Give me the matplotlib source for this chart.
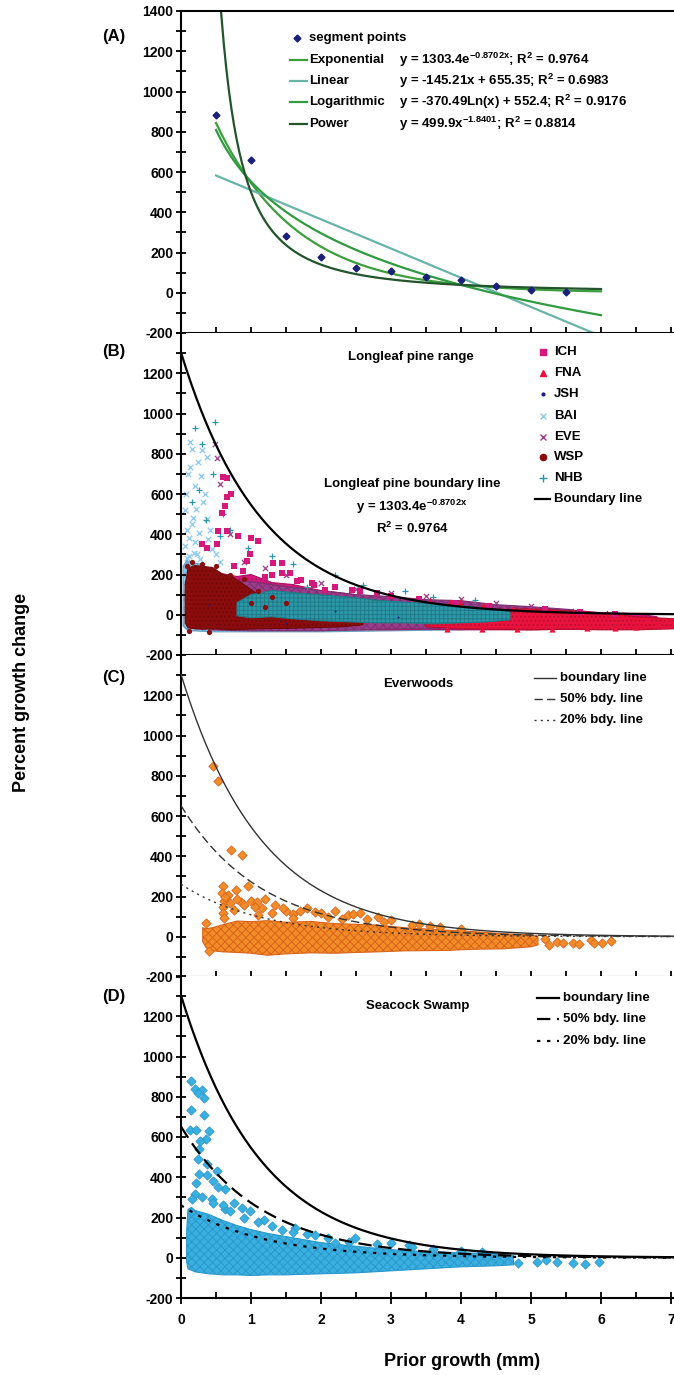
import matplotlib
matplotlib.use("Agg")
import matplotlib.pyplot as plt
import numpy as np
from matplotlib.ticker import MultipleLocator

plt.rcParams['font.family'] = ['Liberation Sans', 'DejaVu Sans']
plt.rcParams['font.weight'] = 'bold'
plt.rcParams['mathtext.default'] = 'regular'
plt.rcParams['hatch.linewidth'] = 0.7

# ---- layout (pixels of the 674x1375 figure)
W, H = 674, 1375
AX_LEFT = 181
AX_H = 322
PANEL_TOPS = [11, 333, 655, 976]
PX_PER_X = 70

# ---- panel A: segment points and the four fits
seg_x = [0.5, 1.0, 1.5, 2.0, 2.5, 3.0, 3.5, 4.0, 4.5, 5.0, 5.5]
seg_y = [881, 658, 281, 177, 122, 107, 78, 61, 36, 12, 5]
fit_names = ['Exponential', 'Linear', 'Logarithmic', 'Power']
fit_colors = ['#3c9e3c', '#68b4a8', '#2f9a40', '#22552c']
fit_eqs = ['y = 1303.4e$^{-0.8702x}$; R$^{2}$ = 0.9764',
           'y = -145.21x + 655.35; R$^{2}$ = 0.6983',
           'y = -370.49Ln(x) + 552.4; R$^{2}$ = 0.9176',
           'y = 499.9x$^{-1.8401}$; R$^{2}$ = 0.8814']
exp_coef = [1303.4, -0.8702]
lin_coef = [-145.21, 655.35]
log_coef = [-370.49, 552.4]
pow_coef = [499.9, -1.8401]
fit_range = [0.5, 6.0]
bdy_range = [0.0, 7.05]
bdy_fractions = [1.0, 0.5, 0.2]

# ---- panel B: longleaf pine range, dense cores (x, low, high) + scattered points
b_names = ['ICH', 'FNA', 'JSH', 'BAI', 'EVE', 'WSP', 'NHB']
b_colors = ['#d4187c', '#e8123c', '#1c1c80', '#8cc8f0', '#9c3c8c', '#8a0c0c', '#2a98a8']
b_markers = ['s', '^', '.', 'x', 'x', 'o', '+']

bai_core_x = [0.03, 0.08, 0.15, 0.3, 0.45, 0.6, 1.0, 1.5, 2.0, 3.0, 4.0, 4.6]
bai_core_lo = [-55, -75, -80, -82, -85, -85, -85, -85, -85, -80, -75, -60]
bai_core_hi = [240, 270, 260, 250, 220, 200, 150, 120, 95, 70, 50, 30]
bai_x = [0.13, 0.15, 0.30, 0.37, 0.13, 0.20, 0.34, 0.22, 0.37, 0.25, 0.39, 0.18, 0.27, 0.44,
         0.10, 0.28, 0.32, 0.15, 0.42, 0.12, 0.20, 0.35, 0.08, 0.50, 0.55, 0.06, 0.24,
         0.05, 0.09, 0.17, 0.07, 0.23, 0.11, 0.29]
bai_y = [858, 825, 817, 783, 733, 642, 600, 525, 475, 408, 375, 308, 275, 325,
         700, 690, 560, 450, 420, 380, 360, 330, 280, 300, 260, 520, 760,
         340, 420, 480, 600, 300, 290, 350]

ich_core_x = [0.5, 0.8, 1.0, 1.3, 1.6, 2.0, 2.5, 3.0, 3.5, 4.0, 4.5, 5.0, 5.5, 6.0, 6.5, 6.8]
ich_core_lo = [-70, -75, -75, -75, -78, -75, -75, -75, -72, -75, -75, -75, -72, -70, -65, -60]
ich_core_hi = [210, 190, 200, 160, 150, 120, 100, 85, 70, 55, 45, 30, 25, 10, 5, -10]
ich_x = [0.60, 0.65, 0.72, 0.65, 0.63, 0.58, 0.53, 0.65, 0.51, 0.82, 1.00, 1.10, 0.99, 0.94,
         1.32, 1.44, 0.89, 1.30, 1.44, 1.56, 1.72, 1.87, 2.06, 2.44, 2.56, 0.30, 0.37,
         3.0, 3.4, 3.9, 4.4, 5.2, 5.7, 6.2, 0.75, 1.2, 1.65, 2.2, 2.8, 1.9]
ich_y = [683, 678, 600, 583, 542, 508, 417, 417, 350, 392, 383, 367, 300, 267,
         258, 258, 217, 200, 208, 208, 175, 158, 125, 125, 117, 350, 333,
         95, 80, 60, 45, 30, 15, 5, 240, 190, 170, 140, 110, 150]

eve_core_x = [0.4, 0.7, 1.0, 1.5, 2.0, 2.5, 3.0, 3.5, 4.0, 4.5, 5.0, 5.6]
eve_core_lo = [-75, -78, -80, -80, -80, -75, -70, -70, -65, -62, -60, -50]
eve_core_hi = [130, 170, 165, 140, 120, 100, 90, 75, 70, 50, 40, 25]
eve_x = [0.48, 0.51, 0.55, 0.70, 0.90, 1.20, 1.50, 2.00, 2.50, 3.00, 3.50, 4.00, 4.50, 5.00]
eve_y = [850, 778, 650, 400, 260, 230, 200, 160, 130, 110, 95, 80, 60, 45]

wsp_core_x = [0.06, 0.1, 0.2, 0.3, 0.45, 0.6, 0.75, 0.9, 1.1, 1.4, 1.8, 2.3, 2.6]
wsp_core_lo = [-40, -65, -70, -72, -70, -72, -75, -72, -70, -68, -65, -60, -50]
wsp_core_hi = [150, 230, 245, 240, 235, 200, 185, 150, 100, 30, 10, 5, -30]
wsp_x = [0.08, 0.15, 0.30, 0.50, 0.70, 0.90, 1.10, 1.30, 1.50, 0.12, 0.40, 1.0, 1.2]
wsp_y = [240, 260, 250, 240, 200, 180, 120, 90, 60, -80, -85, 60, 40]

nhb_core_x = [0.8, 1.0, 1.3, 1.6, 2.0, 2.4, 2.8, 3.2, 3.6, 4.0, 4.4, 4.7]
nhb_core_lo = [-5, -15, -10, -20, -30, -35, -40, -40, -45, -40, -35, -25]
nhb_core_hi = [60, 100, 120, 110, 98, 88, 72, 62, 55, 45, 30, 15]
nhb_x = [0.49, 0.20, 0.30, 0.45, 0.25, 0.60, 0.70, 0.95, 1.30, 1.60, 2.20, 1.80, 2.60, 3.20,
         3.60, 4.20, 0.15, 0.35, 0.55]
nhb_y = [960, 930, 850, 700, 620, 500, 420, 330, 290, 250, 200, 140, 150, 120,
         90, 75, 560, 470, 390]

fna_core_x = [3.5, 4.0, 4.5, 5.0, 5.5, 6.0, 6.5, 7.05]
fna_core_lo = [-60, -70, -72, -75, -72, -75, -75, -70]
fna_core_hi = [20, 35, 25, 30, 20, 10, -10, -20]
fna_x = [3.56, 3.84, 3.99, 4.32, 4.74, 5.17, 5.60, 6.08, 6.30, 6.65, 6.80, 6.90, 7.00,
         6.50, 6.20, 5.80, 5.30, 4.80, 4.30, 3.80]
fna_y = [75, 65, 65, 50, 35, 33, 20, 10, 0, -25, -40, -50, -25,
         -60, -65, -65, -70, -70, -70, -70]

jsh_x = [0.4, 1.5, 2.2, 3.1]
jsh_y = [50, -40, 20, -10]

# ---- panel C: Everwoods
c_core_x = [0.31, 0.36, 0.45, 0.6, 0.8, 1.0, 1.24, 1.5, 1.86, 2.2, 2.5, 2.81, 3.2, 3.77,
            4.2, 4.6, 5.0, 5.1]
c_core_lo = [-25, -55, -70, -75, -78, -82, -92, -85, -80, -82, -78, -75, -70, -68,
             -62, -60, -50, -40]
c_core_hi = [45, 40, 45, 60, 78, 75, 80, 72, 76, 65, 62, 58, 45, 33,
             25, 15, 10, 0]
c_x = [0.46, 0.53, 0.71, 0.87, 0.96, 0.60, 0.58, 0.62, 0.60, 0.70, 0.75, 0.85, 1.00, 1.08,
       1.15, 1.34, 1.50, 1.60, 1.80, 1.91, 2.10, 2.39, 2.56, 2.82, 3.00, 3.40, 3.70, 4.00,
       5.20, 5.25, 5.37, 5.46, 5.60, 5.69, 5.86, 5.90, 6.02, 6.14, 0.35, 0.40,
       0.67, 0.80, 0.90, 1.05, 1.20, 1.30, 1.45, 1.70, 2.00, 2.20, 2.45, 2.65, 0.78,
       0.63, 0.60, 0.61, 1.10, 1.60, 2.30, 2.90, 3.30, 3.55]
c_y = [850, 772, 432, 408, 253, 250, 215, 180, 150, 170, 135, 175, 180, 175,
       142, 158, 130, 115, 142, 125, 100, 108, 117, 100, 83, 65, 50, 40,
       -10, -40, -25, -30, -30, -35, -15, -30, -30, -20, 70, -70,
       208, 190, 160, 150, 190, 120, 145, 130, 120, 130, 115, 90, 230,
       200, 120, 95, 110, 95, 90, 75, 60, 55]

# ---- panel D: Seacock Swamp
d_core_x = [0.08, 0.1, 0.15, 0.2, 0.3, 0.4, 0.5, 0.6, 0.8, 1.0, 1.25, 1.5, 1.75, 2.0,
            2.5, 3.0, 3.5, 4.0, 4.5, 4.75]
d_core_lo = [-20, -55, -62, -70, -75, -80, -82, -85, -85, -88, -85, -85, -82, -80,
             -75, -65, -55, -45, -40, -35]
d_core_hi = [130, 240, 250, 235, 225, 215, 200, 185, 160, 140, 120, 105, 90, 75,
             57, 40, 30, 25, 20, 10]
d_x = [0.14, 0.20, 0.30, 0.24, 0.33, 0.14, 0.33, 0.13, 0.21, 0.40, 0.35, 0.27, 0.25, 0.24,
       0.37, 0.52, 0.26, 0.37, 0.46, 0.22, 0.63, 0.53, 0.20, 0.75, 0.99, 1.19, 0.87, 0.44,
       0.63, 1.44, 1.63, 1.91, 2.20, 2.49, 3.00, 3.25, 4.82, 5.08, 5.22, 5.37, 5.60, 5.77, 5.97,
       0.60, 0.70, 0.90, 1.10, 1.30, 1.60, 1.80, 2.10, 2.40, 2.80, 3.30, 3.60, 4.00, 4.30,
       0.15, 0.30, 0.45]
d_y = [877, 837, 832, 820, 793, 735, 707, 635, 635, 630, 590, 582, 540, 493,
       465, 432, 415, 410, 382, 373, 340, 353, 315, 273, 232, 190, 248, 290,
       240, 140, 148, 115, 73, 98, 73, 65, -27, -20, -13, -20, -27, -30, -23,
       260, 230, 200, 180, 160, 130, 120, 100, 80, 70, 55, 45, 35, 30,
       290, 300, 270]


def afx(xp):
    return (xp - AX_LEFT) / (W - AX_LEFT)


def afy(yp, top):
    return 1 - (yp - top) / AX_H


def darker(c, f=0.75):
    rgb = np.array(matplotlib.colors.to_rgb(c)) * f
    return tuple(rgb)


def style_axes(ax, idx, last=False):
    ax.set_xlim(0, (W - AX_LEFT) / PX_PER_X)
    ax.set_ylim(-200, 1400)
    ax.xaxis.set_major_locator(MultipleLocator(1))
    ax.xaxis.set_minor_locator(MultipleLocator(0.5))
    ax.yaxis.set_minor_locator(MultipleLocator(100))
    yt = list(range(-200, 1401, 200))
    ax.set_yticks(yt)
    ax.set_yticklabels([str(v) if (idx == 0 or v < 1400) else '' for v in yt])
    ax.spines['right'].set_visible(False)
    if idx > 0:
        ax.spines['top'].set_visible(False)
    for s in ['left', 'bottom', 'top']:
        ax.spines[s].set_linewidth(1.5)
    ax.tick_params(axis='y', which='both', direction='inout', length=7, width=1.3,
                   labelsize=10, pad=2)
    ax.tick_params(axis='x', which='both', direction='in', length=4, width=1.3)
    if last:
        ax.tick_params(axis='x', which='major', direction='inout', length=9, labelsize=10, pad=6)
    else:
        ax.tick_params(axis='x', labelbottom=False)


fig = plt.figure(figsize=(W / 100, H / 100), dpi=100)
axes = []
for i, top in enumerate(PANEL_TOPS):
    ax = fig.add_axes([AX_LEFT / W, 1 - (top + AX_H) / H, (W - AX_LEFT) / W, AX_H / H])
    style_axes(ax, i, last=(i == 3))
    axes.append(ax)

# ================= panel A
ax = axes[0]
top = PANEL_TOPS[0]
xf = np.linspace(fit_range[0], fit_range[1], 300)
fit_vals = [exp_coef[0] * np.exp(exp_coef[1] * xf),
            lin_coef[0] * xf + lin_coef[1],
            log_coef[0] * np.log(xf) + log_coef[1],
            pow_coef[0] * xf ** pow_coef[1]]
for yv, c in zip(fit_vals, fit_colors):
    ax.plot(xf, yv, color=c, lw=1.6)
ax.plot(seg_x, seg_y, 'D', color='#1a1f7a', ms=3.5, zorder=5)

rows = [38, 60, 81, 102, 124]
ax.plot(afx(297), afy(rows[0], top), 'D', color='#1a1f7a', ms=3.5, transform=ax.transAxes)
ax.text(afx(309), afy(rows[0], top), 'segment points', transform=ax.transAxes,
        fontsize=9.5, va='center')
for r, name, c, eq in zip(rows[1:], fit_names, fit_colors, fit_eqs):
    ax.plot([afx(290), afx(307)], [afy(r, top)] * 2, color=c, lw=1.6, transform=ax.transAxes)
    ax.text(afx(309), afy(r, top), name, transform=ax.transAxes, fontsize=9.5, va='center')
    ax.text(afx(399), afy(r, top), eq, transform=ax.transAxes, fontsize=9.5, va='center')

# ================= panel B
ax = axes[1]
top = PANEL_TOPS[1]
xb = np.linspace(bdy_range[0], bdy_range[1], 300)
bdy = exp_coef[0] * np.exp(exp_coef[1] * xb)

cores = [(bai_core_x, bai_core_lo, bai_core_hi, '#8cc8f0', 'xxxx'),
         (ich_core_x, ich_core_lo, ich_core_hi, '#d4187c', '....'),
         (eve_core_x, eve_core_lo, eve_core_hi, '#9c3c8c', 'xxxx'),
         (fna_core_x, fna_core_lo, fna_core_hi, '#e8123c', '....'),
         (wsp_core_x, wsp_core_lo, wsp_core_hi, '#8a0c0c', '....'),
         (nhb_core_x, nhb_core_lo, nhb_core_hi, '#2a98a8', '++++')]
for cx, lo, hi, c, hatch in cores:
    ax.fill_between(cx, lo, hi, facecolor=c, edgecolor=darker(c, 0.8), lw=0.8, hatch=hatch)

ax.scatter(bai_x, bai_y, marker='x', s=16, color='#8cc8f0', lw=0.9)
ax.scatter(nhb_x, nhb_y, marker='+', s=20, color='#2a98a8', lw=0.9)
ax.scatter(eve_x, eve_y, marker='x', s=14, color='#9c3c8c', lw=0.9)
ax.scatter(wsp_x, wsp_y, marker='o', s=14, color='#8a0c0c', lw=0)
ax.scatter(fna_x, fna_y, marker='^', s=20, color='#e8123c', lw=0)
ax.scatter(ich_x, ich_y, marker='s', s=20, color='#d4187c', lw=0)
ax.scatter(jsh_x, jsh_y, marker='.', s=8, color='#1c1c80', lw=0)
ax.plot(xb, bdy, color='black', lw=1.6)

ax.text(afx(411), afy(357, top), 'Longleaf pine range', transform=ax.transAxes,
        fontsize=9.5, ha='center', va='center')
ax.text(afx(412), afy(484, top), 'Longleaf pine boundary line', transform=ax.transAxes,
        fontsize=9.5, ha='center', va='center')
ax.text(afx(412), afy(507, top), 'y = 1303.4e$^{-0.8702x}$', transform=ax.transAxes,
        fontsize=9.5, ha='center', va='center')
ax.text(afx(412), afy(528, top), 'R$^{2}$ = 0.9764', transform=ax.transAxes,
        fontsize=9.5, ha='center', va='center')

b_rows = [352, 373, 394, 416, 437, 457, 478]
b_sizes = [4.5, 5, 4, 5, 5, 4.5, 6]
for r, name, c, m, ms in zip(b_rows, b_names, b_colors, b_markers, b_sizes):
    ax.plot(afx(543), afy(r, top), marker=m, color=c, ms=ms, mew=1, ls='none',
            transform=ax.transAxes)
    ax.text(afx(554), afy(r, top), name, transform=ax.transAxes, fontsize=9.5, va='center')
ax.plot([afx(535), afx(550)], [afy(499, top)] * 2, color='black', lw=1.6, transform=ax.transAxes)
ax.text(afx(554), afy(499, top), 'Boundary line', transform=ax.transAxes, fontsize=9.5,
        va='center')

# ================= panels C and D
site_info = [
    (axes[2], PANEL_TOPS[2], 'Everwoods', c_core_x, c_core_lo, c_core_hi, c_x, c_y,
     '#f28c28', '#d9641a', [684, 678, 699, 720], 534, 1.0, '#333333'),
    (axes[3], PANEL_TOPS[3], 'Seacock Swamp', d_core_x, d_core_lo, d_core_hi, d_x, d_y,
     '#3ab0e0', '#2a98cc', [1006, 998, 1019, 1041], 537, 1.6, 'black'),
]
line_labels = ['boundary line', '50% bdy. line', '20% bdy. line']
for ax, top, title, cx, lo, hi, px, py, fc, ec, rws, hx, lw, lc in site_info:
    ax.fill_between(cx, lo, hi, facecolor=fc, edgecolor=ec, lw=0.8, hatch='xxxx')
    ax.scatter(px, py, marker='D', s=22, facecolor=fc, edgecolor=ec, lw=0.6, zorder=3)
    styles = ['-', (0, (6, 3)), (0, (1.5, 3))]
    for frac, st in zip(bdy_fractions, styles):
        ax.plot(xb, frac * bdy, color=lc, lw=lw, ls=st, zorder=4)
    ax.text(afx(418), afy(rws[0], top), title, transform=ax.transAxes, fontsize=9.5,
            ha='center', va='center')
    for r, lab, st in zip(rws[1:], line_labels, styles):
        ax.plot([afx(hx), afx(hx + 22)], [afy(r, top)] * 2, color=lc, lw=lw, ls=st,
                transform=ax.transAxes)
        ax.text(afx(hx + 26), afy(r, top), lab, transform=ax.transAxes, fontsize=9.5,
                va='center')

# panel letters and axis titles
for lab, yp in zip(['(A)', '(B)', '(C)', '(D)'], [36, 351, 678, 997]):
    fig.text(114 / W, 1 - yp / H, lab, fontsize=12, ha='center', va='center')
fig.text(22 / W, 1 - 692 / H, 'Percent growth change', rotation=90, fontsize=13,
         ha='center', va='center')
fig.text(462 / W, 1 - 1362 / H, 'Prior growth (mm)', fontsize=13, ha='center', va='center')

fig.savefig('out.png', dpi=100)
